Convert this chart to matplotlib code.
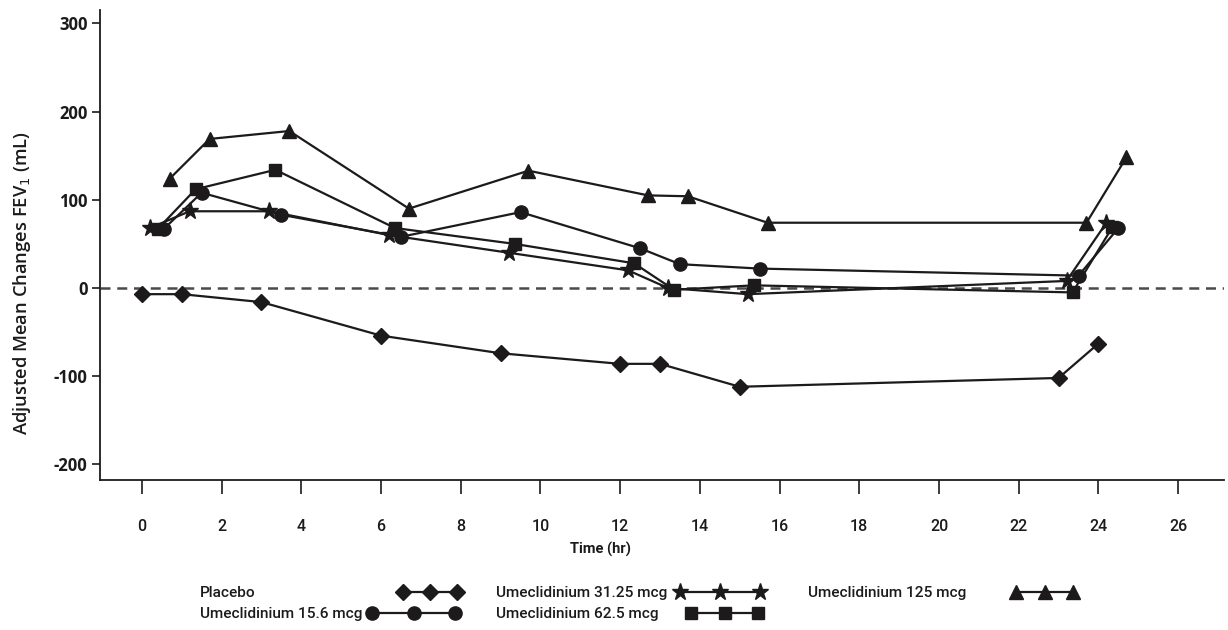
import matplotlib
matplotlib.use("Agg")
import matplotlib.pyplot as plt
from matplotlib.lines import Line2D
import numpy as np

plt.rcParams["axes.unicode_minus"] = False

# ---------------- data ----------------
placebo_t = [0, 1, 3, 6, 9, 12, 13, 15, 23, 24]
placebo_y = [-7, -7, -16, -54, -74, -86, -86, -112, -102, -63]

u156_t = [0.55, 1.5, 3.5, 6.5, 9.5, 12.5, 13.5, 15.5, 23.5, 24.5]
u156_y = [67, 108, 83, 58, 86, 45, 27, 22, 14, 68]

u3125_t = [0.2, 1.2, 3.2, 6.2, 9.2, 12.2, 13.2, 15.2, 23.2, 24.2]
u3125_y = [68, 87, 87, 60, 40, 20, 0, -7, 8, 74]

u625_t = [0.4, 1.35, 3.35, 6.35, 9.35, 12.35, 13.35, 15.35, 23.35, 24.35]
u625_y = [67, 112, 134, 68, 50, 28, -2, 3, -5, 69]

u125_t = [0.7, 1.7, 3.7, 6.7, 9.7, 12.7, 13.7, 15.7, 23.7, 24.7]
u125_y = [124, 169, 178, 90, 133, 105, 104, 74, 74, 148]

labels = ["Placebo", "Umeclidinium 15.6 mcg", "Umeclidinium 31.25 mcg",
          "Umeclidinium 62.5 mcg", "Umeclidinium 125 mcg"]
xticks = list(range(0, 27, 2))
yticks = [-200, -100, 0, 100, 200, 300]

# ---------------- figure ----------------
C = "#1c1a1a"
W, H = 1228, 630
fig = plt.figure(figsize=(W / 100, H / 100), dpi=100)
ax = fig.add_axes([100 / W, 1 - 480 / H, 1124 / W, 470 / H])

styles = [("D", 8.5), ("o", 9.5), ("*", 12.5), ("s", 8.2), ("^", 10)]
data = [(placebo_t, placebo_y), (u156_t, u156_y), (u3125_t, u3125_y),
        (u625_t, u625_y), (u125_t, u125_y)]
for (t, y), (m, ms), lab in zip(data, styles, labels):
    ax.plot(t, y, color=C, lw=1.6, marker=m, ms=ms, mfc=C, mec=C,
            label=lab, zorder=3)

ax.axhline(0, color="#4a4a4a", lw=1.8, ls=(0, (4, 2.7)), zorder=1)

ax.set_xlim(-1.05, 27.15)
ax.set_ylim(-217.7, 315.2)
ax.set_xticks(xticks)
ax.set_yticks(yticks)
ax.spines["top"].set_visible(False)
ax.spines["right"].set_visible(False)
for s in ["left", "bottom"]:
    ax.spines[s].set_linewidth(1.3)
    ax.spines[s].set_color(C)
ax.tick_params(axis="x", direction="out", length=10, width=1.2, color=C, pad=18,
               labelsize=11.5)
ax.tick_params(axis="y", direction="out", length=6, width=1.2, color=C, pad=3,
               labelsize=12)
for lab in ax.get_xticklabels():
    lab.set_family(["Roboto", "DejaVu Sans"])
    lab.set_fontweight("medium")
    lab.set_color(C)
for lab in ax.get_yticklabels():
    lab.set_family(["Open Sans", "DejaVu Sans"])
    lab.set_fontweight("bold")
    lab.set_color(C)

ax.set_xlabel("Time (hr)", fontsize=10.5, family=["Roboto", "DejaVu Sans"],
              fontweight="bold", color=C)
ax.xaxis.set_label_coords((600 - 100) / 1124, (480 - 549) / 470)
ax.xaxis.label.set_va("center")
ax.set_ylabel("Adjusted Mean Changes FEV$_1$ (mL)", fontsize=13.2,
              family=["Open Sans", "DejaVu Sans"], fontweight="semibold",
              color=C)
ax.yaxis.set_label_coords((22 - 100) / 1124, (480 - 283) / 470)
ax.yaxis.label.set_va("center")

# ---------------- legend (label left, symbol right) ----------------
renderer = fig.canvas.get_renderer()
probe = fig.text(0, 0, labels[2], fontsize=11.5, fontweight="medium",
                 family=["Roboto", "DejaVu Sans"])
wpx = probe.get_window_extent(renderer).width
probe.remove()
lsize = 11.5 * 172.0 / wpx

# (label x, row y, symbol x-start, symbol x-end) in pixels
leg_pos = [(200, 593, 403, 457), (200, 614, 372, 455), (496, 593, 680, 760),
           (496, 614, 691, 758), (808, 593, 1016, 1073)]
for lab, (m, ms), (xt, yr, x0, x1) in zip(labels, styles, leg_pos):
    fig.text(xt / W, 1 - yr / H, lab, fontsize=lsize, va="center", ha="left",
             family=["Roboto", "DejaVu Sans"], fontweight="medium", color=C)
    xs = np.linspace(x0, x1, 3) / W
    ys = np.full(3, 1 - (yr - 1) / H)
    fig.add_artist(Line2D(xs, ys, transform=fig.transFigure, color=C, lw=1.6,
                          marker=m, ms=ms, mfc=C, mec=C))

fig.savefig("out.png", dpi=100, facecolor="white")
